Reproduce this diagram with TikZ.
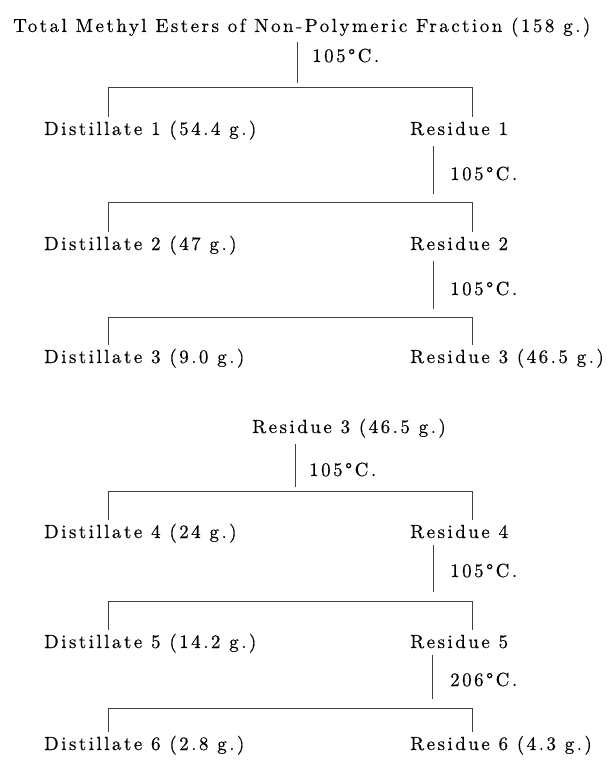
\documentclass[tikz,border=0pt]{standalone}
\usepackage{fontspec}
\newfontfamily\lblfont{lmroman10-regular.otf}[LetterSpace=13,FakeBold=0.4]
\usepackage{tikz}
\usetikzlibrary{positioning,calc}

\begin{document}
\begin{tikzpicture}[x=1pt,y=-1pt,
  lbl/.style={inner sep=0pt, anchor=base west,
              font=\lblfont\fontsize{19}{22}\selectfont},
  conn/.style={draw=black!75, line width=0.8pt}
]
  \useasboundingbox (0,0) rectangle (606,781);

  \node[lbl] (t)   at (13,32)  {Total Methyl Esters of Non-Polymeric Fraction (158 g.)};
  \node[lbl] (c1)  at (312,62) {105°C.};
  \node[lbl] (d1)  at (44,135) {Distillate 1 (54.4 g.)};
  \node[lbl] (r1)  at (410,135){Residue 1};
  \node[lbl] (c2)  at (450,180){105°C.};
  \node[lbl] (d2)  at (44,250) {Distillate 2 (47 g.)};
  \node[lbl] (r2)  at (410,250){Residue 2};
  \node[lbl] (c3)  at (450,295){105°C.};
  \node[lbl] (d3)  at (44,363) {Distillate 3 (9.0 g.)};
  \node[lbl] (r3)  at (410,363){Residue 3 (46.5 g.)};

  \node[lbl] (r3b) at (252,433){Residue 3 (46.5 g.)};
  \node[lbl] (c4)  at (309,476){105°C.};
  \node[lbl] (d4)  at (44,538) {Distillate 4 (24 g.)};
  \node[lbl] (r4)  at (410,538){Residue 4};
  \node[lbl] (c5)  at (450,577){105°C.};
  \node[lbl] (d5)  at (44,648) {Distillate 5 (14.2 g.)};
  \node[lbl] (r5)  at (410,648){Residue 5};
  \node[lbl] (c6)  at (450,686){206°C.};
  \node[lbl] (d6)  at (44,750) {Distillate 6 (2.8 g.)};
  \node[lbl] (r6)  at (410,750){Residue 6 (4.3 g.)};

  \coordinate (j1) at (297,87);  \coordinate (a1) at (108,87);  \coordinate (b1) at (472,87);
  \coordinate (j2) at (433,202); \coordinate (a2) at (108,202); \coordinate (b2) at (472,202);
  \coordinate (j3) at (433,317); \coordinate (a3) at (108,317); \coordinate (b3) at (472,317);
  \coordinate (j4) at (295,491); \coordinate (a4) at (108,491); \coordinate (b4) at (472,491);
  \coordinate (j5) at (433,601); \coordinate (a5) at (108,601); \coordinate (b5) at (472,601);
  \coordinate (j6) at (432,708); \coordinate (a6) at (108,708); \coordinate (b6) at (472,708);

  \draw[conn] ($(t.base -| j1)+(0,10)$)   -- ($(j1)+(0,-4)$);
  \draw[conn] ($(r1.base -| j2)+(0,11)$)  -- ($(j2)+(0,-8)$);
  \draw[conn] ($(r2.base -| j3)+(0,11)$)  -- ($(j3)+(0,-8)$);
  \draw[conn] ($(r3b.base -| j4)+(0,11)$) -- ($(j4)+(0,-4)$);
  \draw[conn] ($(r4.base -| j5)+(0,7)$)   -- ($(j5)+(0,-9)$);
  \draw[conn] ($(r5.base -| j6)+(0,7)$)   -- ($(j6)+(0,-9)$);

  \draw[conn] ($(d1.north -| a1)+(0,-4)$) -- (a1) -- (b1) -- ($(r1.north -| b1)+(0,-5)$);
  \draw[conn] ($(d2.north -| a2)+(0,-4)$) -- (a2) -- (b2) -- ($(r2.north -| b2)+(0,-5)$);
  \draw[conn] ($(d3.north -| a3)+(0,-4)$) -- (a3) -- (b3) -- ($(r3.north -| b3)+(0,-4)$);
  \draw[conn] ($(d4.north -| a4)+(0,-4)$) -- (a4) -- (b4) -- ($(r4.north -| b4)+(0,-5)$);
  \draw[conn] ($(d5.north -| a5)+(0,-4)$) -- (a5) -- (b5) -- ($(r5.north -| b5)+(0,-5)$);
  \draw[conn] ($(d6.north -| a6)+(0,-4)$) -- (a6) -- (b6) -- ($(r6.north -| b6)+(0,-4)$);
\end{tikzpicture}
\end{document}
